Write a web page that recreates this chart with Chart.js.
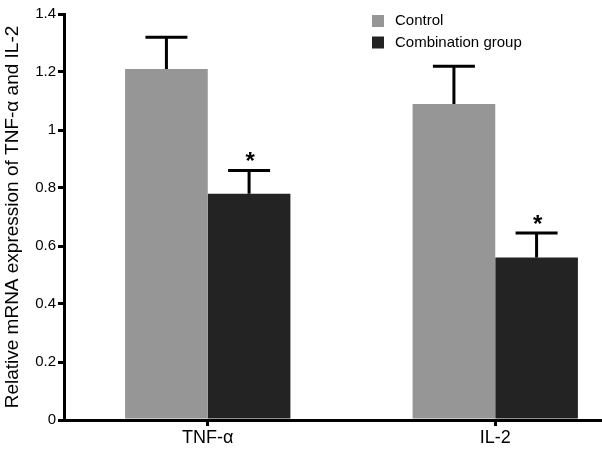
<!DOCTYPE html>
<html>
<head>
<meta charset="utf-8">
<script src="https://cdn.jsdelivr.net/npm/chart.js@4.4.1/dist/chart.umd.min.js"></script>
<style>
    html, body { margin: 0; padding: 0; background: #fff; overflow: hidden; width: 602px; height: 453px; }
    #wrap { width: 642px; height: 453px; }
</style>
</head>
<body>
<div id="wrap"><canvas id="chart" width="642" height="453"></canvas></div>
<script>
const categories = ['TNF-α', 'IL-2'];
const seriesNames = ['Control', 'Combination group'];
const controlValues = [1.21, 1.09];
const controlErrors = [0.11, 0.13];
const combinationValues = [0.78, 0.56];
const combinationErrors = [0.08, 0.085];
const combinationMarks = ['*', '*'];
const yTicks = [0, 0.2, 0.4, 0.6, 0.8, 1, 1.2, 1.4];

const FONT = '"Liberation Sans", Arial, sans-serif';

// barras de error + asteriscos + leyenda dibujada a mano
const extras = {
    id: 'extras',
    afterDatasetsDraw(chart) {
        const ctx = chart.ctx;
        const yScale = chart.scales.y;
        ctx.save();
        ctx.strokeStyle = '#000';
        ctx.lineWidth = 3;
        chart.data.datasets.forEach((ds, i) => {
            const meta = chart.getDatasetMeta(i);
            meta.data.forEach((bar, j) => {
                const top = yScale.getPixelForValue(ds.data[j] + ds.errors[j]);
                ctx.beginPath();
                ctx.moveTo(bar.x, bar.y);
                ctx.lineTo(bar.x, top);
                ctx.moveTo(bar.x - 21, top);
                ctx.lineTo(bar.x + 21, top);
                ctx.stroke();
                if (ds.marks && ds.marks[j]) {
                    ctx.fillStyle = '#000';
                    ctx.font = 'bold 24px ' + FONT;
                    ctx.textAlign = 'center';
                    ctx.textBaseline = 'middle';
                    ctx.fillText(ds.marks[j], bar.x + 1, top - 8);
                }
            });
        });
        // leyenda
        ctx.font = '15px ' + FONT;
        ctx.textAlign = 'left';
        ctx.textBaseline = 'middle';
        chart.data.datasets.forEach((ds, i) => {
            const y = 21 + i * 21.5;
            ctx.fillStyle = ds.backgroundColor;
            ctx.fillRect(372, y - 6, 12, 12);
            ctx.fillStyle = '#000';
            ctx.fillText(ds.label, 395, y);
        });
        ctx.restore();
    },
};

new Chart(document.getElementById('chart'), {
    type: 'bar',
    data: {
        labels: categories,
        datasets: [
            {
                label: seriesNames[0],
                data: controlValues,
                errors: controlErrors,
                backgroundColor: '#969696',
            },
            {
                label: seriesNames[1],
                data: combinationValues,
                errors: combinationErrors,
                marks: combinationMarks,
                backgroundColor: '#232323',
            },
        ],
    },
    options: {
        responsive: false,
        devicePixelRatio: 1,
        animation: false,
        layout: { padding: { top: 14, right: 3, bottom: 0, left: 0 } },
        datasets: { bar: { barPercentage: 1, categoryPercentage: 0.575 } },
        plugins: { legend: { display: false }, tooltip: { enabled: false } },
        scales: {
            x: {
                grid: { drawOnChartArea: false, offset: false, tickLength: 6, color: '#000', lineWidth: 3 },
                border: { color: '#000', width: 3 },
                ticks: { color: '#000', font: { family: FONT, size: 18 }, padding: 1 },
                afterFit: (s) => { s.height = 33; },
            },
            y: {
                min: 0,
                max: 1.4,
                grid: { drawOnChartArea: false, tickLength: 6, color: '#000', lineWidth: 3 },
                border: { color: '#000', width: 3 },
                afterBuildTicks: (s) => { s.ticks = yTicks.map((v) => ({ value: v })); },
                ticks: {
                    color: '#000',
                    font: { family: FONT, size: 15 },
                    padding: 2,
                    callback: (v) => String(v),
                },
                title: {
                    display: true,
                    text: 'Relative mRNA expression of TNF-α and IL-2',
                    color: '#000',
                    font: { family: FONT, size: 19 },
                    padding: { top: 1, bottom: 0 },
                },
                afterFit: (s) => { s.width = 64; },
            },
        },
    },
    plugins: [extras],
});
</script>
</body>
</html>
